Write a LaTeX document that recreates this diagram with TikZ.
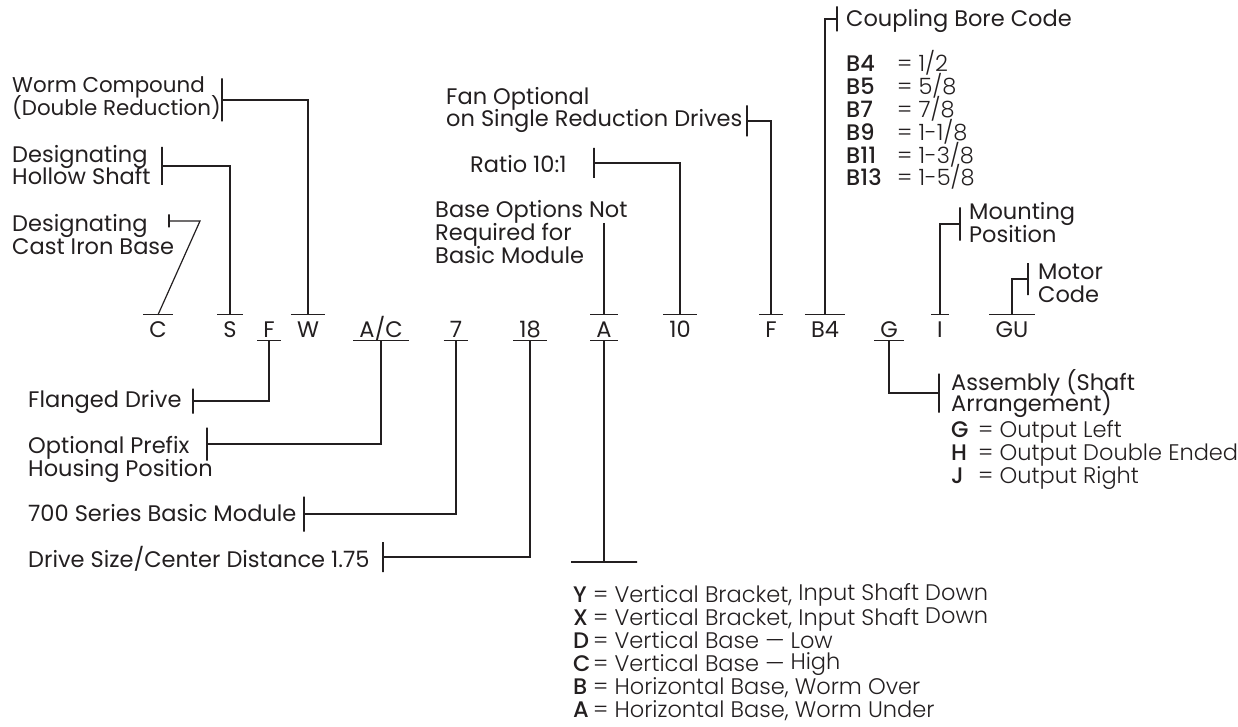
\documentclass[tikz,border=0pt]{standalone}
\usepackage{fontspec}
\setmainfont{Poppins}
\newfontfamily\lightfont{Poppins Light}
\newfontfamily\medfont{Poppins Medium}
\usepackage{xcolor}
\usetikzlibrary{arrows.meta,calc}
\definecolor{ink}{HTML}{231F20}
% stacked lines with a fixed baseline distance
\newcommand{\stack}[2]{\vtop{\baselineskip=#1\relax\lineskiplimit=-100pt\relax#2}}
\newcommand{\lin}[1]{\hbox{#1}}
\newcommand{\crow}[3]{\hbox{\makebox[#1][l]{\medfont #2}{\lightfont #3}}}
\tikzset{
  conn/.style={draw=ink,line width=1.2pt},
  codebox/.style={anchor=base,inner xsep=6pt,inner ysep=0pt,text height=22pt,text depth=3pt,text=ink},
  tickbar/.style={draw=ink,line width=1.2pt,inner sep=0pt,minimum width=0pt,minimum height=#1},
  hbar/.style={draw=ink,line width=1.2pt,inner sep=0pt,minimum height=0pt,minimum width=#1},
  lbl/.style={anchor=base west,inner sep=0pt,text=ink}
}

\begin{document}
\begin{tikzpicture}[x=1pt,y=-1pt,font=\fontsize{22.5}{23}\selectfont]
\useasboundingbox (0,0) rectangle (1238,727);
% code row
\foreach \n/\x/\t in {cC/158/C,cS/230/S,cF/269/F,cW/308/W,cAC/381/{A/C},c7/456/7,c18/530/18,cA/604/A,c10/680/10,cFan/771/F,cB4/825/B4,cG/889/G,cI/940/I,cGU/1012/GU}
  \node[codebox] (\n) at (\x,337) {\t};
\foreach \n in {cC,cS,cW,cA,c10,cFan,cB4,cI,cGU} \draw[conn] (\n.north west)--(\n.north east);
\foreach \n in {cF,cAC,c7,c18,cA,cG} \draw[conn] (\n.south west)--(\n.south east);
% labels above
\node[lbl,font=\fontsize{21.4}{23}\selectfont] (lWorm) at (12,93) {\stack{23pt}{\lin{Worm Compound}\lin{(Double Reduction)}}};
\node[lbl] (lHollow) at (12,163) {\stack{22pt}{\lin{Designating}\lin{Hollow Shaft}}};
\node[lbl] (lCast) at (12,232) {\stack{23pt}{\lin{Designating}\lin{Cast Iron Base}}};
\node[lbl] (lFan) at (446,105) {\stack{22pt}{\lin{Fan Optional}\lin{on Single Reduction Drives}}};
\node[lbl] (lRatio) at (470,173) {Ratio 10:1};
\node[lbl] (lBase) at (435,218) {\stack{23pt}{\lin{Base Options Not}\lin{Required for}\lin{Basic Module}}};
\node[lbl] (lCoup) at (846,27) {Coupling Bore Code};
\node[lbl] (tabBore) at (846,72) {\stack{22.8pt}{\crow{51pt}{B4}{= 1/2}\crow{51pt}{B5}{= 5/8}\crow{51pt}{B7}{= 7/8}%
  \crow{51pt}{B9}{= 1-1/8}\crow{51pt}{B11}{= 1-3/8}\crow{51pt}{B13}{= 1-5/8}}};
\node[lbl] (lMount) at (969,220) {\stack{23pt}{\lin{Mounting}\lin{Position}}};
\node[lbl] (lMotor) at (1038,279) {\stack{23pt}{\lin{Motor}\lin{Code}}};
% labels below
\node[lbl] (lAssem) at (951,390) {\stack{21pt}{\lin{Assembly (Shaft}\lin{Arrangement)}}};
\node[lbl] (tabAssem) at (951,437) {\stack{23pt}{\crow{27pt}{G}{= Output Left}\crow{27pt}{H}{= Output Double Ended}\crow{27pt}{J}{= Output Right}}};
\node[lbl] (lFlange) at (28,407) {Flanged Drive};
\node[lbl] (lPrefix) at (28,453) {\stack{23pt}{\lin{Optional Prefix}\lin{Housing Position}}};
\node[lbl] (lSeries) at (28,521) {700 Series Basic Module};
\node[lbl] (lSize) at (28,567) {Drive Size/Center Distance 1.75};
\node[lbl] (tabBase) at (573,602) {\stack{23pt}{%
  \crow{20pt}{Y}{= Vertical Bracket, \raisebox{1.5pt}{Input Shaft Down}}%
  \crow{20pt}{X}{= Vertical Bracket, Input Shaft \raisebox{1.5pt}{Down}}%
  \crow{20pt}{D}{= Vertical Base \textemdash{} Low}%
  \crow{20pt}{C}{= Vertical Base \textemdash{} \raisebox{1.5pt}{High}}%
  \crow{20pt}{B}{= Horizontal Base, Worm Over}%
  \crow{20pt}{A}{= Horizontal Base, Worm Under}}};
% ticks
\node[tickbar=43] (tWorm) at (222,100) {};
\node[tickbar=38] (tHollow) at (162,166) {};
\node[tickbar=13] (tCast) at (169,221) {};
\node[tickbar=31] (tFan) at (747,121) {};
\node[tickbar=30] (tRatio) at (594,163) {};
\node[tickbar=25] (tCoup) at (837,19) {};
\node[tickbar=33] (tMount) at (960,224) {};
\node[tickbar=32] (tMotor) at (1028,279) {};
\node[tickbar=39] (tAssem) at (939,393) {};
\node[tickbar=25] (tFlange) at (193,401) {};
\node[tickbar=33] (tPrefix) at (207,444) {};
\node[tickbar=35] (tSeries) at (304,514) {};
\node[tickbar=30] (tSize) at (383,557) {};
\node[hbar=66] (Abar) at (604,562) {};
\coordinate (castBend) at (200,221);
\coordinate (baseEnd) at (604,223);
% connectors
\draw[conn] (tWorm.center) -| (cW.north);
\draw[conn] (tHollow.center) -| (cS.north);
\draw[conn] (tCast.center) -- (castBend) -- (cC.north);
\draw[conn] (tFan.center) -| (cFan.north);
\draw[conn] (tRatio.center) -| (c10.north);
\draw[conn] (baseEnd) -- (cA.north);
\draw[conn] (tCoup.center) -| (cB4.north);
\draw[conn] (tMount.center) -| (cI.north);
\draw[conn] (tMotor.center) -| (cGU.north);
\draw[conn] (cG.south) |- (tAssem.center);
\draw[conn] (cF.south) |- (tFlange.center);
\draw[conn] (cAC.south) |- (tPrefix.center);
\draw[conn] (c7.south) |- (tSeries.center);
\draw[conn] (c18.south) |- (tSize.center);
\draw[conn] (cA.south) -- (Abar.center);
\end{tikzpicture}
\end{document}
